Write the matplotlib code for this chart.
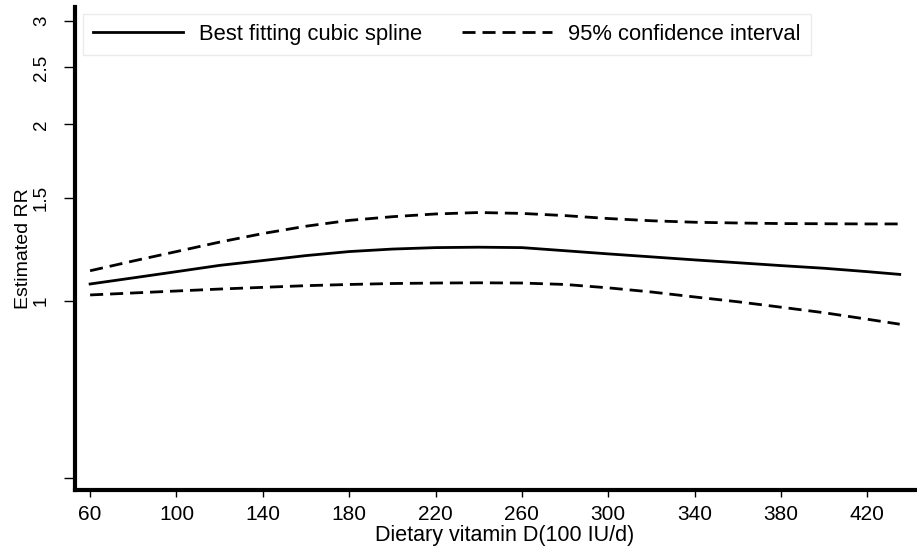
import matplotlib
matplotlib.use("Agg")
import matplotlib.pyplot as plt
from matplotlib.ticker import FixedLocator, NullLocator

plt.rcParams['font.family'] = ['Liberation Sans', 'DejaVu Sans']

# Data
vitamin_d = [60, 80, 100, 120, 140, 160, 180, 200, 220, 240, 260, 280, 300,
             320, 340, 360, 380, 400, 420, 435]
rr_spline = [1.069, 1.095, 1.122, 1.150, 1.172, 1.195, 1.214, 1.226, 1.233, 1.235,
             1.233, 1.218, 1.203, 1.189, 1.175, 1.162, 1.149, 1.137, 1.122, 1.110]
ci_upper = [1.126, 1.170, 1.214, 1.260, 1.303, 1.341, 1.372, 1.392, 1.407, 1.415,
            1.410, 1.398, 1.382, 1.370, 1.362, 1.358, 1.355, 1.354, 1.353, 1.353]
ci_lower = [1.024, 1.032, 1.040, 1.048, 1.055, 1.062, 1.067, 1.071, 1.073, 1.074,
            1.073, 1.067, 1.053, 1.036, 1.016, 0.997, 0.976, 0.955, 0.931, 0.913]

x_ticks = [60, 100, 140, 180, 220, 260, 300, 340, 380, 420]
y_ticks = [0.5, 1, 1.5, 2, 2.5, 3]
y_tick_labels = ["", "1", "1.5", "2", "2.5", "3"]

fig = plt.figure(figsize=(9.17, 5.47), dpi=100)
ax = fig.add_axes([75/917, 57/547, 1 - 75/917, (490-7)/547])

dash = (4.7, 2.5)
ax.plot(vitamin_d, rr_spline, color='black', lw=2.0, label='Best fitting cubic spline')
ax.plot(vitamin_d, ci_upper, color='black', lw=2.0, dashes=dash,
        label='95% confidence interval')
ax.plot(vitamin_d, ci_lower, color='black', lw=2.0, dashes=dash)

ax.set_yscale('log')
ax.set_xlim(53, 443)
ax.set_ylim(0.4764, 3.169)

ax.yaxis.set_major_locator(FixedLocator(y_ticks))
ax.yaxis.set_minor_locator(NullLocator())
ax.set_yticklabels(y_tick_labels, rotation=90, va='center', fontsize=13.5)
ax.set_xticks(x_ticks)
ax.set_xticklabels([str(t) for t in x_ticks], fontsize=15)

ax.tick_params(axis='y', direction='out', length=8, width=1, pad=10)
ax.tick_params(axis='x', direction='out', length=5, width=1, pad=6)

for s in ['top', 'right']:
    ax.spines[s].set_visible(False)
for s in ['left', 'bottom']:
    ax.spines[s].set_linewidth(3)

fig.text(505/917, 1 - 541/547, 'Dietary vitamin D(100 IU/d)', fontsize=15.5,
         ha='center', va='baseline')
ax.set_ylabel('Estimated RR', fontsize=14, labelpad=1)

leg = ax.legend(loc='upper left', bbox_to_anchor=(83/917, 1 - 14/547),
                bbox_transform=fig.transFigure, ncol=2, fontsize=15.8,
                frameon=True, fancybox=False, handlelength=4.1,
                handletextpad=0.75, columnspacing=1.8, borderpad=0.45,
                borderaxespad=0)
leg.get_frame().set_edgecolor('#e6e6e6')
leg.get_frame().set_linewidth(1)

fig.savefig('out.png', dpi=100, facecolor='white')
